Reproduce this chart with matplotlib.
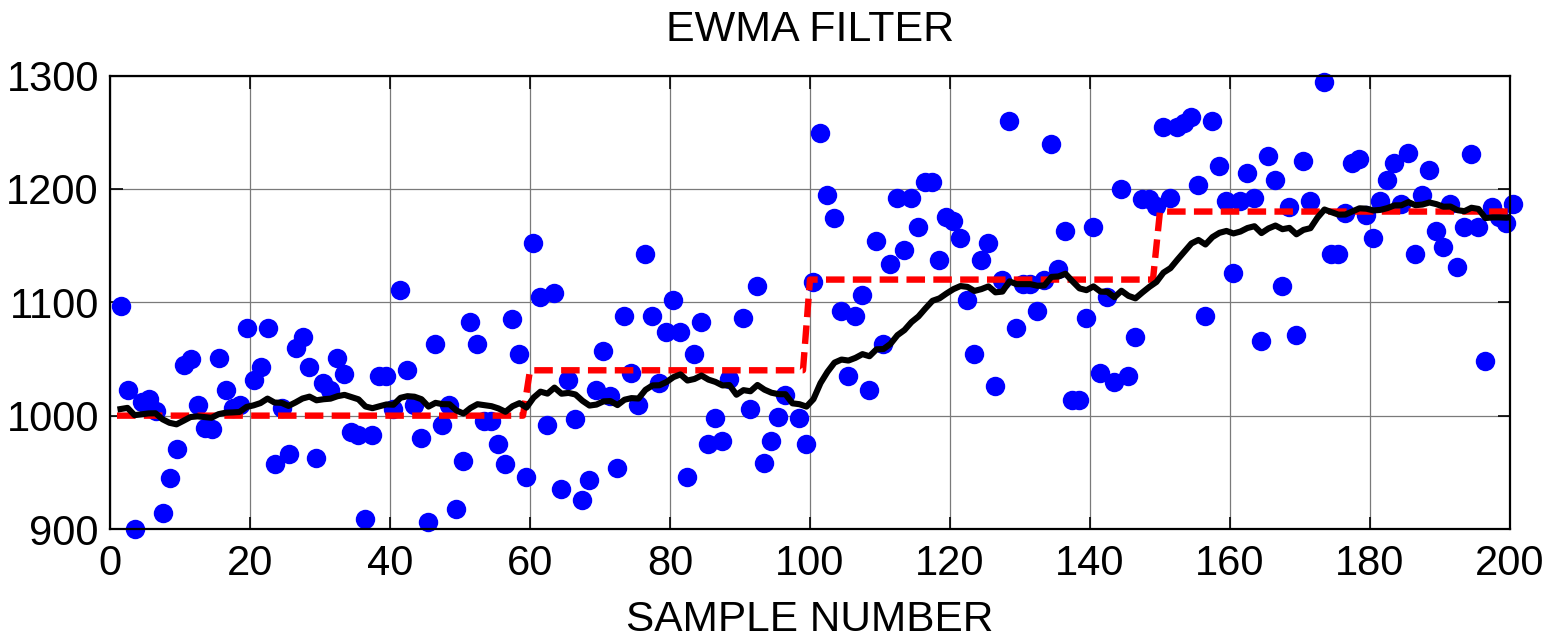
import numpy as np
import matplotlib
matplotlib.use('Agg')
import matplotlib.pyplot as plt

# Leituras das amostras (1..200) feitas no gráfico
amostras = np.arange(1, 201)
valores = np.array([
    1097, 1023, 900, 1012, 1015, 1004, 914, 945, 971, 1045,
    1050, 1009, 989, 988, 1051, 1023, 1007, 1009, 1077, 1031,
    1043, 1077, 957, 1007, 966, 1060, 1069, 1043, 963, 1029,
    1023, 1051, 1037, 986, 983, 909, 983, 1035, 1035, 1006,
    1111, 1040, 1009, 980, 906, 1063, 992, 1009, 918, 960,
    1083, 1063, 995, 995, 975, 957, 1085, 1054, 946, 1152,
    1105, 992, 1108, 935, 1031, 997, 926, 943, 1023, 1057,
    1017, 954, 1088, 1038, 1009, 1143, 1088, 1029, 1074, 1102,
    1074, 946, 1054, 1083, 975, 998, 978, 1032, 885, 1086,
    1006, 1114, 958, 978, 999, 1018, 885, 998, 975, 1118,
    1249, 1195, 1174, 1092, 1035, 1088, 1106, 1023, 1154, 1063,
    1134, 1192, 1146, 1192, 1166, 1206, 1206, 1137, 1175, 1172,
    1157, 1102, 1054, 1137, 1152, 1026, 1120, 1260, 1077, 1116,
    1116, 1092, 1120, 1240, 1129, 1163, 1014, 1014, 1086, 1166,
    1038, 1105, 1030, 1200, 1035, 1069, 1191, 1191, 1185, 1255,
    1192, 1255, 1258, 1263, 1203, 1088, 1260, 1220, 1189, 1126,
    1189, 1214, 1192, 1066, 1229, 1208, 1114, 1184, 1071, 1225,
    1189, 1320, 1294, 1143, 1143, 1179, 1223, 1226, 1177, 1157,
    1189, 1208, 1223, 1187, 1232, 1143, 1195, 1217, 1163, 1149,
    1187, 1131, 1166, 1231, 1166, 1048, 1184, 1175, 1170, 1187,
], dtype=float)

# Média alvo (degraus)
niveis = [1000, 1040, 1120, 1180]
duracoes = [59, 40, 50, 51]
alvo = np.repeat(niveis, duracoes)

# Filtro EWMA
lam = 0.06
ewma = np.zeros(len(valores))
z = niveis[0]
for i, v in enumerate(valores):
    z = lam * v + (1 - lam) * z
    ewma[i] = z

plt.rcParams['font.family'] = ['Liberation Sans', 'DejaVu Sans']

fig = plt.figure(figsize=(15.56, 6.41), dpi=100)
ax = fig.add_axes([0.0707, 0.1747, 0.8997, 0.7075])

# pontos fora dos limites não aparecem (como no original)
visiveis = np.ma.masked_outside(valores, 900, 1300)
ax.plot(amostras + 0.5, visiveis, 'o', color='#0000ff', markersize=14,
        markeredgewidth=0, clip_on=False, zorder=2)
ax.plot(amostras, alvo, color='#ff0000', lw=4.6, ls=(0, (2.9, 1.3)),
        dash_capstyle='butt', zorder=3)
ax.plot(amostras + 0.5, ewma, color='black', lw=4.4,
        solid_joinstyle='round', zorder=4)

ax.set_xlim(0, 200)
ax.set_ylim(900, 1300)
ax.set_xticks(np.arange(0, 201, 20))
ax.set_yticks(np.arange(900, 1301, 100))
ax.grid(True, color='#7a7a7a', lw=0.9)
ax.set_axisbelow(True)
ax.tick_params(direction='in', length=9, width=1.2, top=True, right=True,
               labelsize=30)
ax.tick_params(axis='x', pad=11)
ax.tick_params(axis='y', pad=8)
for s in ax.spines.values():
    s.set_linewidth(1.6)

ax.set_title('EWMA FILTER', fontsize=31, pad=25)
ax.set_xlabel('SAMPLE NUMBER', fontsize=30.5, labelpad=11)

fig.savefig('out.png', dpi=100)
